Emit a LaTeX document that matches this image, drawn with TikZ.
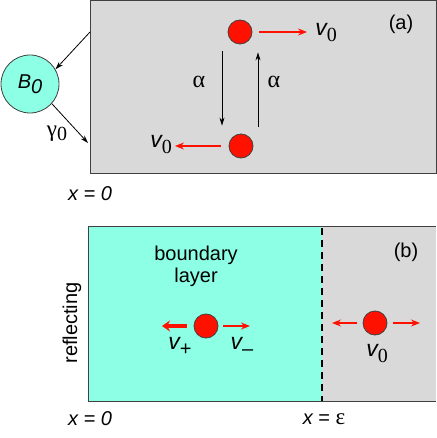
\documentclass[tikz,border=0pt]{standalone}
\usepackage{fontspec}
\setmainfont{Liberation Sans}
\newfontfamily\symfont{Liberation Serif}
\usetikzlibrary{arrows.meta}

\definecolor{panelgray}{RGB}{217,217,217}
\definecolor{layercyan}{RGB}{140,255,228}
\definecolor{dotred}{RGB}{255,17,0}
\definecolor{edgegray}{RGB}{64,64,64}

\newcommand{\velsub}[2]{{\fontsize{23}{24}\selectfont\itshape v}\raisebox{-6pt}{#1#2}}

\begin{document}
\begin{tikzpicture}[x=1pt, y=-1pt, font=\fontsize{20}{22}\selectfont,
    dot/.style={circle, fill=dotred, draw=edgegray, line width=0.8pt, minimum size=24pt, inner sep=0pt},
    blk/.style={-{Stealth[length=8pt, width=5pt]}, line width=0.8pt},
    redarr/.style={-{Stealth[length=9pt, width=7pt]}, dotred, line width=1.2pt},
    fatarr/.style={-{Stealth[length=8pt, width=11pt]}, dotred, line width=3.5pt}]
  \useasboundingbox (0,0) rectangle (436,438);
  % (a) panel
  \filldraw[fill=panelgray, draw=edgegray, line width=1pt] (90,0.5) rectangle (436,174);
  \node[circle, fill=layercyan, draw=edgegray, line width=0.8pt, minimum size=58pt, inner sep=0pt] (B) at (30,84)
    {{\itshape B\raisebox{-5pt}{0}}};
  \coordinate (in) at (90,32);
  \coordinate (out) at (88,143);
  \draw[blk] (in) -- (B.30);
  \draw[blk] (B.-42) -- (out);
  \node at (57,134) {{\fontsize{23}{24}\symfont γ}\raisebox{-4pt}{\symfont 0}};
  \node[dot] (up) at (240,32) {};
  \node[dot] (down) at (241,146) {};
  \coordinate (rup) at (307,32);
  \coordinate (rdown) at (175,146);
  \draw[redarr, shorten <=7pt] (up) -- (rup);
  \draw[redarr, shorten <=8pt] (down) -- (rdown);
  \node at (326,33) {\velsub{\symfont}{0}};
  \node at (161,145) {\velsub{\symfont}{0}};
  \draw[blk] ([xshift=-18pt, yshift=-7pt]up.south) -- ([xshift=-19pt, yshift=8pt]down.north);
  \draw[blk] ([xshift=17pt, yshift=7pt]down.north) -- ([xshift=18pt, yshift=-8pt]up.south);
  \node at (199,82) {\fontsize{24}{26}\symfont α};
  \node at (274,82) {\fontsize{24}{26}\symfont α};
  \node at (401,24) {(a)};
  \node at (90,194) {\itshape x = 0};
  % (b) panel
  \fill[layercyan] (88,226) rectangle (322,401);
  \fill[panelgray] (322,226) rectangle (436,401);
  \draw[edgegray, line width=1pt] (436,226) -- (88,226) -- (88,401) -- (436,401);
  \draw[line width=2pt, dash pattern=on 7pt off 5pt] (322,228) -- (322,401);
  \node[align=center] at (196,266) {boundary\\layer};
  \node[rotate=90] at (72,323) {reflecting};
  \node at (406,252) {(b)};
  \node[dot] (lay) at (206,326) {};
  \node[dot] (bulk) at (375,323) {};
  \coordinate (lp) at (162,326);
  \coordinate (lm) at (250,326);
  \coordinate (bl) at (332,323);
  \coordinate (br) at (420,323);
  \draw[fatarr, shorten <=7pt] (lay) -- (lp);
  \draw[redarr, shorten <=5pt] (lay) -- (lm);
  \draw[redarr, shorten <=6pt] (bulk) -- (bl);
  \draw[redarr, shorten <=6pt] (bulk) -- (br);
  \node at (180,346) {\velsub{}{+}};
  \node at (242,346) {\velsub{}{–}};
  \node at (377,354) {\velsub{\symfont}{0}};
  \node at (90,419) {\itshape x = 0};
  \node at (324,419) {{\itshape x} = {\fontsize{23}{24}\symfont ε}};
\end{tikzpicture}
\end{document}
